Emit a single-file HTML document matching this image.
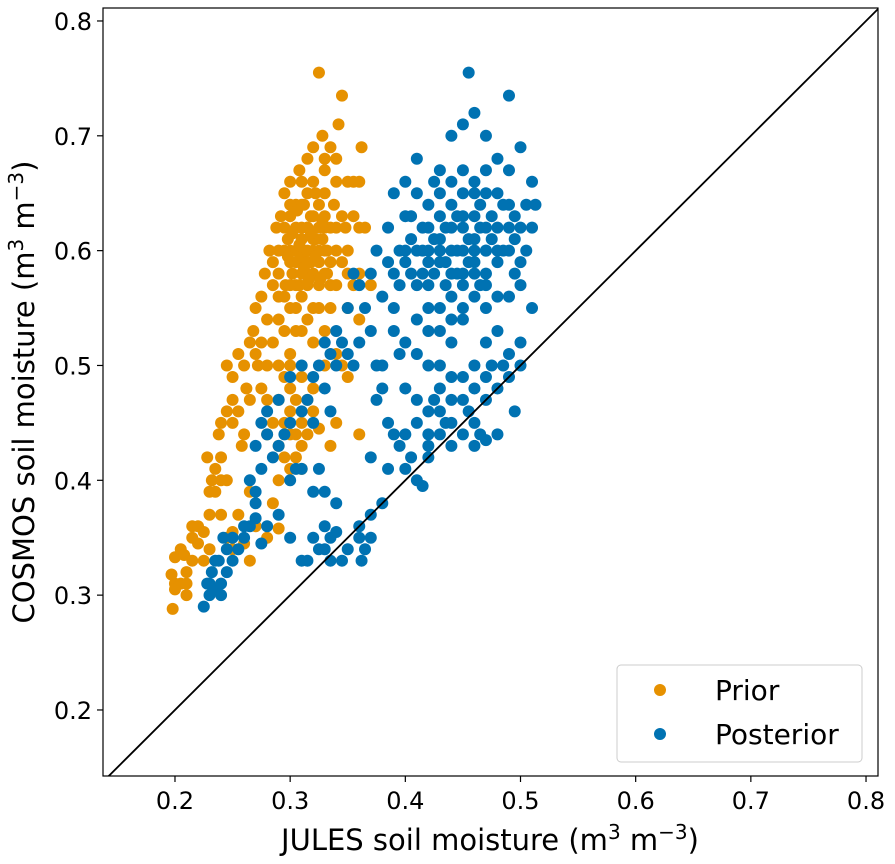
<!DOCTYPE html>
<html><head><meta charset="utf-8">
<style>
html,body{margin:0;padding:0;background:#fff;}
svg{display:block;font-family:"DejaVu Sans","Liberation Sans",sans-serif;}
</style></head>
<body>
<svg id="chart" width="895" height="864" viewBox="0 0 895 864" xmlns="http://www.w3.org/2000/svg">
<defs><clipPath id="plotclip"><rect x="103" y="8" width="775" height="768"/></clipPath></defs>
<g id="marks" clip-path="url(#plotclip)"></g>
<rect x="103" y="8" width="775" height="768" fill="none" stroke="#000" stroke-width="1.2"/>
<g id="axes"></g>
<text x="490" y="850" font-size="29" text-anchor="middle">JULES soil moisture (m<tspan dy="-11" font-size="20">3</tspan><tspan dy="11"> m</tspan><tspan dy="-11" font-size="20">−3</tspan><tspan dy="11">)</tspan></text>
<text transform="translate(34,392) rotate(-90)" font-size="29" text-anchor="middle">COSMOS soil moisture (m<tspan dy="-11" font-size="20">3</tspan><tspan dy="11"> m</tspan><tspan dy="-11" font-size="20">−3</tspan><tspan dy="11">)</tspan></text>
<g>
<rect x="617" y="665" width="245" height="97" rx="4" fill="#fff" fill-opacity="0.8" stroke="#ccc"/>
<circle cx="660" cy="690" r="6" fill="#E69100"/>
<text x="715" y="700" font-size="28">Prior</text>
<circle cx="660" cy="734" r="6" fill="#0072B2"/>
<text x="715" y="744" font-size="28">Posterior</text>
</g>
</svg>
<script>
const xTicks=[0.2,0.3,0.4,0.5,0.6,0.7,0.8];
const yTicks=[0.2,0.3,0.4,0.5,0.6,0.7,0.8];
const tickLabels=["0.2","0.3","0.4","0.5","0.6","0.7","0.8"];
const priorPoints=[[.197,.318],[.2,.31],[.198,.288],[.205,.31],[.21,.3],[.2,.333],[.205,.34],[.215,.33],[.22,.345],[.215,.36],[.22,.36],[.21,.31],[.2,.305],[.225,.355],[.23,.39],[.232,.4],[.228,.42],[.235,.41],[.238,.44],[.24,.45],[.245,.46],[.245,.5],[.25,.49],[.25,.47],[.255,.51],[.26,.5],[.265,.52],[.262,.48],[.268,.53],[.27,.55],[.272,.5],[.275,.56],[.278,.58],[.28,.54],[.282,.6],[.285,.57],[.288,.62],[.29,.6],[.292,.63],[.295,.65],[.298,.61],[.3,.66],[.302,.58],[.305,.64],[.308,.67],[.31,.62],[.312,.6],[.315,.68],[.318,.59],[.32,.63],[.322,.61],[.325,.755],[.328,.7],[.33,.65],[.332,.6],[.335,.57],[.338,.64],[.34,.66],[.342,.71],[.345,.735],[.348,.62],[.35,.6],[.355,.66],[.36,.58],[.362,.69],[.365,.62],[.3,.59],[.305,.6],[.31,.58],[.315,.57],[.32,.55],[.325,.6],[.33,.62],[.3,.55],[.295,.56],[.29,.54],[.285,.52],[.28,.5],[.3,.51],[.31,.53],[.32,.52],[.33,.53],[.34,.51],[.35,.55],[.36,.54],[.3,.48],[.29,.47],[.285,.45],[.28,.44],[.29,.43],[.3,.46],[.295,.42],[.305,.44],[.31,.43],[.315,.47],[.3,.41],[.29,.4],[.285,.38],[.27,.36],[.265,.33],[.28,.35],[.29,.358],[.26,.345],[.25,.355],[.255,.37],[.265,.39],[.32,.48],[.325,.445],[.335,.43],[.34,.45],[.345,.5],[.33,.5],[.35,.49],[.325,.57],[.315,.62],[.305,.62],[.318,.63],[.322,.65],[.328,.61],[.332,.58],[.312,.64],[.308,.57],[.296,.57],[.3,.6],[.31,.61],[.32,.6],[.33,.6],[.335,.62],[.34,.6],[.345,.59],
[.305,.59],[.31,.595],[.315,.6],[.32,.61],[.325,.62],[.33,.58],[.305,.57],[.31,.64],[.315,.65],[.32,.66],[.325,.64],[.33,.67],[.3,.63],[.295,.6],[.3,.57],[.305,.55],[.31,.56],[.315,.59],[.32,.58],[.325,.59],[.33,.63],[.335,.59],[.34,.62],[.345,.63],[.34,.57],[.335,.55],[.325,.55],[.315,.54],[.305,.53],[.295,.53],[.29,.58],[.285,.59],[.29,.56],[.295,.62],[.3,.64],[.31,.66],[.32,.69],[.33,.68],[.335,.69],[.34,.68],[.35,.66],[.355,.63],[.36,.62],[.36,.66],[.35,.58],[.355,.57],[.315,.62],[.322,.595],[.318,.615],[.312,.585],[.328,.625],[.308,.605],[.302,.615],[.298,.595],[.306,.635],[.326,.575],[.316,.575],[.3,.5],[.29,.5],[.295,.49],[.305,.47],[.31,.45],[.32,.46],[.31,.49],[.3,.44],[.305,.42],[.31,.41],[.295,.45],[.315,.44],[.28,.47],[.275,.52],[.27,.51],[.275,.48],[.265,.47],[.26,.44],[.255,.46],[.25,.45],[.24,.42],[.235,.39],[.23,.37],[.24,.37],[.245,.35],[.25,.34],[.23,.34],[.225,.33],[.21,.32],[.208,.335],[.215,.35],[.258,.43],[.245,.4],[.24,.4],[.36,.44],[.37,.57]];
const posteriorPoints=[[.225,.29],[.228,.31],[.23,.3],[.235,.305],[.24,.3],[.232,.32],[.238,.33],[.245,.32],[.25,.33],[.255,.34],[.242,.35],[.26,.35],[.265,.36],[.27,.367],[.275,.345],[.28,.36],[.29,.37],[.3,.35],[.31,.33],[.315,.33],[.32,.35],[.325,.34],[.33,.36],[.335,.35],[.34,.355],[.345,.33],[.35,.34],[.36,.36],[.362,.33],[.37,.37],[.365,.34],[.27,.38],[.265,.4],[.27,.43],[.275,.45],[.28,.46],[.29,.47],[.3,.49],[.31,.5],[.295,.44],[.305,.41],[.31,.46],[.32,.45],[.325,.41],[.33,.48],[.335,.46],[.34,.5],[.345,.52],[.35,.55],[.355,.5],[.36,.57],[.37,.58],[.375,.6],[.38,.56],[.385,.62],[.39,.55],[.395,.6],[.4,.63],[.405,.58],[.41,.65],[.415,.62],[.42,.6],[.425,.66],[.43,.59],[.435,.62],[.44,.64],[.445,.58],[.45,.6],[.455,.755],[.46,.63],[.465,.57],[.47,.65],[.475,.61],[.48,.59],[.485,.6],[.49,.735],[.495,.63],[.5,.69],[.505,.6],[.51,.66],[.513,.64],[.42,.57],[.43,.55],[.44,.56],[.45,.57],[.46,.59],[.41,.6],[.4,.6],[.43,.61],[.44,.6],[.45,.63],[.42,.62],[.46,.61],[.47,.58],[.39,.53],[.38,.5],[.375,.47],[.4,.48],[.41,.47],[.42,.46],[.43,.48],[.44,.47],[.45,.49],[.46,.5],[.47,.52],[.48,.53],[.49,.51],[.5,.5],[.495,.46],[.48,.44],[.47,.435],[.46,.45],[.44,.43],[.43,.44],[.42,.42],[.41,.4],[.4,.44],[.395,.43],[.385,.41],[.37,.42],[.38,.38],[.415,.395],[.44,.52],[.45,.54],[.42,.53],[.43,.67],[.44,.7],[.45,.71],[.46,.72],[.47,.7],[.41,.68],[.4,.66],[.39,.65],[.48,.68],[.49,.67],[.5,.62],
[.42,.59],[.425,.58],[.43,.6],[.435,.57],[.44,.58],[.445,.6],[.45,.62],[.455,.61],[.46,.6],[.465,.62],[.47,.6],[.475,.63],[.48,.62],[.485,.64],[.49,.6],[.495,.58],[.5,.59],[.43,.63],[.44,.62],[.45,.65],[.46,.65],[.465,.64],[.47,.62],[.415,.58],[.41,.57],[.405,.61],[.4,.59],[.395,.57],[.39,.58],[.385,.59],[.42,.64],[.43,.65],[.44,.66],[.45,.67],[.46,.66],[.47,.67],[.48,.65],[.49,.64],[.495,.61],[.5,.57],[.49,.56],[.48,.56],[.47,.55],[.46,.56],[.45,.55],[.44,.54],[.43,.53],[.42,.55],[.41,.54],[.4,.52],[.395,.51],[.41,.51],[.42,.5],[.43,.5],[.44,.49],[.45,.47],[.46,.48],[.47,.49],[.48,.48],[.49,.49],[.5,.52],[.51,.55],[.41,.45],[.42,.44],[.43,.46],[.44,.45],[.45,.44],[.46,.43],[.47,.47],[.405,.42],[.4,.41],[.39,.44],[.385,.45],[.38,.48],[.375,.5],[.37,.53],[.365,.55],[.36,.52],[.355,.58],[.35,.51],[.34,.53],[.335,.51],[.33,.52],[.325,.5],[.32,.49],[.315,.47],[.3,.45],[.29,.43],[.285,.42],[.28,.44],[.275,.41],[.27,.39],[.3,.4],[.31,.41],[.32,.39],[.33,.39],[.34,.38],[.26,.36],[.25,.35],[.245,.34],[.235,.33],[.23,.31],[.24,.31],[.335,.33],[.33,.34],[.37,.35],[.36,.35],[.42,.43],[.425,.47],[.435,.45],[.455,.46],[.465,.44],[.475,.5],[.485,.5],[.47,.6],[.455,.59],[.445,.63],[.435,.59],[.425,.61],[.415,.6],[.405,.63],[.45,.58],[.46,.58],[.47,.57],[.48,.6],[.49,.62],[.505,.64],[.51,.62]];
const NS="http://www.w3.org/2000/svg";
const xMin=0.1375,xMax=0.8104,yMin=0.1425,yMax=0.8113;
const L=103,R=878,T=8,B=776;
function sx(v){return L+(v-xMin)/(xMax-xMin)*(R-L);}
function sy(v){return B-(v-yMin)/(yMax-yMin)*(B-T);}
const marks=document.getElementById('marks');
const axes=document.getElementById('axes');
function mk(tag,attrs,parent){const e=document.createElementNS(NS,tag);for(const k in attrs)e.setAttribute(k,attrs[k]);parent.appendChild(e);return e;}
priorPoints.forEach(p=>{
 const c=mk('circle',{cx:sx(p[0]),cy:sy(p[1]),r:6,fill:'#E69100'},marks);
 
 
});
posteriorPoints.forEach(p=>{
 const c=mk('circle',{cx:sx(p[0]),cy:sy(p[1]),r:6,fill:'#0072B2'},marks);
 
 
});
const lo=Math.max(xMin,yMin),hi=Math.min(xMax,yMax)+0.01;
const d=mk('line',{x1:sx(lo-0.01),y1:sy(lo-0.01),x2:sx(hi),y2:sy(hi),stroke:'#000','stroke-width':1.8},marks);


xTicks.forEach((v,i)=>{
 const t=mk('line',{x1:sx(v),y1:B,x2:sx(v),y2:B+6,stroke:'#000','stroke-width':1.2},axes);
 
 
 const tx=mk('text',{x:sx(v),y:B+33,'font-size':24,'text-anchor':'middle'},axes);
 tx.textContent=tickLabels[i];
 
 
});
yTicks.forEach((v,i)=>{
 const t=mk('line',{x1:L-6,y1:sy(v),x2:L,y2:sy(v),stroke:'#000','stroke-width':1.2},axes);
 
 
 const tx=mk('text',{x:L-11,y:sy(v)+9,'font-size':24,'text-anchor':'end'},axes);
 tx.textContent=tickLabels[i];
 
 
});
</script>
</body></html>
